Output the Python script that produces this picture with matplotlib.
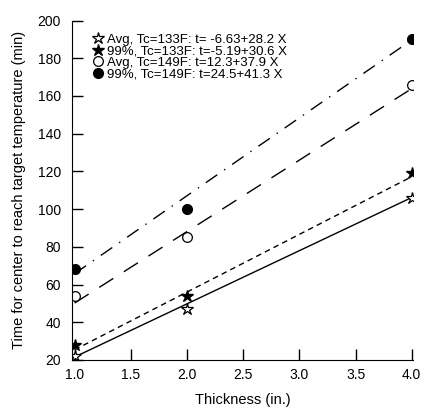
import numpy as np
import matplotlib
matplotlib.use("Agg")
import matplotlib.pyplot as plt

plt.rcParams['font.family'] = ['Liberation Sans', 'DejaVu Sans']

# thickness (in.)
thickness = [1.0, 2.0, 4.0]

# observed times (min)
avg_133 = [22, 47, 106]
p99_133 = [28, 54, 119]
avg_149 = [54, 85, 166]
p99_149 = [68, 100, 190]

# fitted lines: intercept, slope
fit_avg_133 = (-6.63, 28.2)
fit_p99_133 = (-5.19, 30.6)
fit_avg_149 = (12.3, 37.9)
fit_p99_149 = (24.5, 41.3)

labels = ["Avg, Tc=133F: t= -6.63+28.2 X",
          "99%, Tc=133F: t=-5.19+30.6 X",
          "Avg, Tc=149F: t=12.3+37.9 X",
          "99%, Tc=149F: t=24.5+41.3 X"]

fig = plt.figure(figsize=(4.23, 4.07), dpi=100)
ax = fig.add_axes([0.170, 0.1155, 0.806, 0.834])

xfit = np.array([1.0, 4.0])

# fit lines
ax.plot(xfit, fit_avg_133[0] + fit_avg_133[1] * xfit, color="black", lw=1.0,
        linestyle="-")
ax.plot(xfit, fit_p99_133[0] + fit_p99_133[1] * xfit, color="black", lw=1.0,
        linestyle=(0, (4, 3)))
ax.plot(xfit, fit_avg_149[0] + fit_avg_149[1] * xfit, color="black", lw=1.0,
        linestyle=(0, (12, 9)))
ax.plot(xfit, fit_p99_149[0] + fit_p99_149[1] * xfit, color="black", lw=1.0,
        linestyle=(0, (10, 6, 1, 6)))

# data points
h1, = ax.plot(thickness, avg_133, linestyle="none", marker="*", ms=9,
              mfc="white", mec="black", mew=0.9)
h2, = ax.plot(thickness, p99_133, linestyle="none", marker="*", ms=9,
              mfc="black", mec="black")
h3, = ax.plot(thickness, avg_149, linestyle="none", marker="o", ms=7,
              mfc="white", mec="black", mew=0.9)
h4, = ax.plot(thickness, p99_149, linestyle="none", marker="o", ms=7,
              mfc="black", mec="black")

ax.legend([h1, h2, h3, h4], labels, loc="upper left", frameon=False,
          fontsize=9.5, handletextpad=0.3, labelspacing=-0.04,
          borderaxespad=0.0, bbox_to_anchor=(0.045, 0.978), handlelength=0.8)

ax.set_xlim(0.976, 4.01)
ax.set_ylim(20, 200)
ax.set_xticks([1.0, 1.5, 2.0, 2.5, 3.0, 3.5, 4.0])
ax.set_xticklabels(["1.0", "1.5", "2.0", "2.5", "3.0", "3.5", "4.0"])
ax.set_yticks(range(20, 201, 20))

ax.spines["top"].set_visible(False)
ax.spines["right"].set_visible(False)
ax.tick_params(direction="in", length=8, width=1.0, labelsize=10)
ax.tick_params(axis="y", pad=8)
ax.tick_params(axis="x", pad=6)

ax.set_xlabel("Thickness (in.)", fontsize=10.5, labelpad=8)
ax.set_ylabel("Time for center to reach target temperature (min)",
              fontsize=10.5, labelpad=8)

fig.savefig("out.png", dpi=100)
